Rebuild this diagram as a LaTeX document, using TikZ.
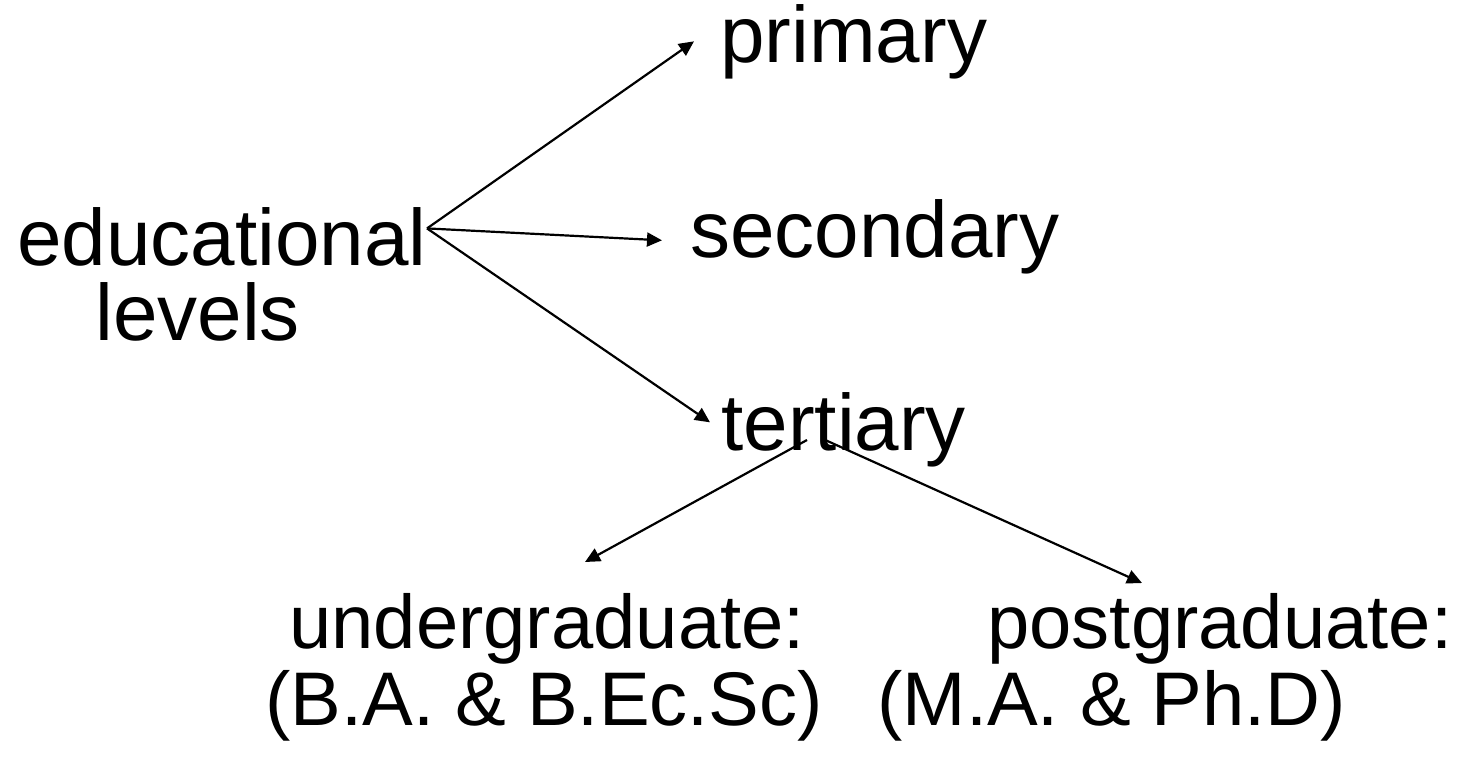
\documentclass[tikz,border=0pt]{standalone}
\usepackage{fontspec}
\setmainfont{Liberation Sans}
\usetikzlibrary{arrows.meta}
\tikzset{
	stage/.style={inner sep=0pt, anchor=base west, font=\fontsize{40}{37.5}\selectfont},
	degreebox/.style={inner sep=0pt, anchor=north west, align=left, font=\fontsize{38}{38.5}\selectfont},
	branch/.style={-{Triangle[length=7.5pt,width=7pt]}, line width=1.1pt},
}
\begin{document}
\begin{tikzpicture}[x=0.5pt,y=-0.5pt]
	\useasboundingbox (0,0) rectangle (1477,756);
	
	\node[stage] (educational) at (17,265) {educational};
	\node[stage] (levels) at (95,340) {levels};
	\node[stage] (primary) at (720,62) {primary};
	\node[stage] (secondary) at (690,257) {secondary};
	\node[stage] (tertiary) at (721,450) {tertiary};
	\node[degreebox] (undergrad) at (265,593) {\hspace*{12pt}undergraduate:\\(B.A. \& B.Ec.Sc)};
	\node[degreebox] (postgrad) at (877,593) {\hspace*{55pt}postgraduate:\\(M.A. \& Ph.D)};
	
	% fork points
	\coordinate (fork) at ([yshift=4pt]educational.east);
	\coordinate (tertleft) at ([shift={(43pt,5pt)}]tertiary.base west);
	\coordinate (tertright) at ([shift={(51pt,5.5pt)}]tertiary.base west);
	
	\draw[branch] (fork) -- ([xshift=-13pt]primary.west);
	\draw[branch] (fork) -- ([xshift=-14pt,yshift=-2pt]secondary.west);
	\draw[branch] (fork) -- ([xshift=-5.5pt,yshift=3.5pt]tertiary.west);
	\draw[branch] (tertleft) -- ([shift={(160pt,15.5pt)}]undergrad.north west);
	\draw[branch] (tertright) -- ([shift={(132.5pt,5pt)}]postgrad.north west);
\end{tikzpicture}
\end{document}
